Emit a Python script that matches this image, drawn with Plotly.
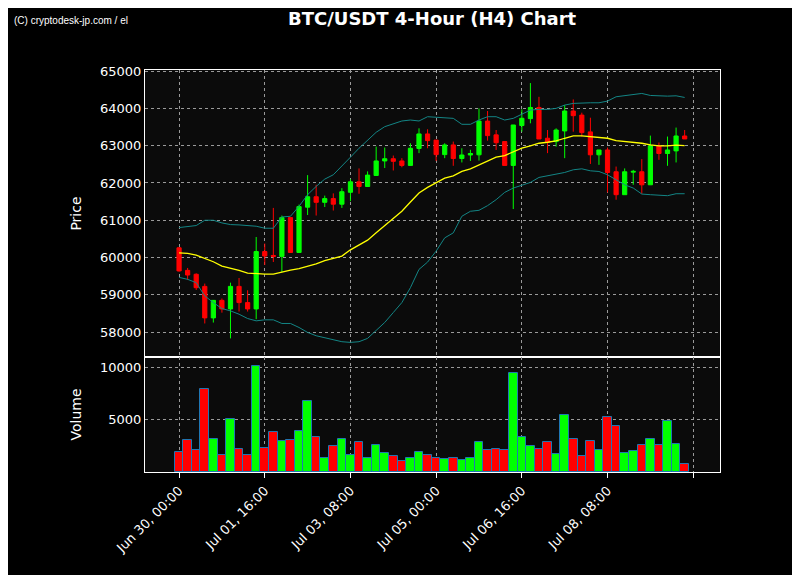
import pandas as pd
import plotly.graph_objects as go
from plotly.subplots import make_subplots

dates = pd.date_range("2024-06-30 00:00", periods=60, freq="4h")

opens = [60260, 59655, 59550, 59225, 58380, 58850, 58620, 59225, 58790, 58620,
         60160, 60055, 60030, 61070, 60135, 61350, 61630, 61480, 61580, 61430,
         61750, 62030, 61905, 62200, 62590, 62650, 62590, 62470, 62925, 63315,
         63150, 62760, 63020, 62655, 62750, 62755, 63660, 63290, 63110, 62470,
         63540, 63725, 64025, 63200, 63110, 63395, 63930, 63820, 63370, 62755,
         62885, 62300, 61685, 62290, 62300, 61950, 62995, 62790, 62860, 63260]
highs = [60280, 59720, 59575, 59300, 58860, 58900, 59325, 59450, 59120, 60550,
         60375, 61330, 61125, 61070, 61420, 62210, 61950, 61660, 61720, 61860,
         62100, 62390, 62310, 62975, 62950, 62735, 62665, 63065, 63465, 63440,
         63150, 63065, 63110, 62930, 62890, 64000, 63930, 63420, 63110, 63555,
         63975, 64680, 64310, 63420, 63465, 64090, 64240, 63885, 63750, 62885,
         62950, 62440, 62390, 62350, 62640, 63270, 63085, 63245, 63485, 63420]
lows = [59620, 59400, 59130, 58230, 58255, 58520, 57830, 58550, 58550, 58345,
        59800, 59880, 59610, 60135, 60135, 61140, 61125, 61355, 61260, 61330,
        61510, 61710, 61905, 62200, 62400, 62335, 62420, 62470, 62800, 62930,
        62590, 62665, 62460, 62550, 62590, 62600, 63135, 62885, 62470, 61300,
        63375, 63600, 63180, 62800, 62975, 62665, 63375, 63245, 62510, 62485,
        61745, 61550, 61685, 61950, 61710, 61950, 62620, 62460, 62550, 63180]
closes = [59640, 59530, 59190, 58380, 58850, 58620, 59225, 58790, 58620, 60160,
          60040, 60030, 61070, 60135, 61365, 61630, 61480, 61580, 61430, 61765,
          62030, 61905, 62210, 62590, 62650, 62580, 62470, 62930, 63315, 63135,
          62760, 63020, 62655, 62750, 62790, 63660, 63270, 63080, 62470, 63555,
          63735, 64025, 63180, 63090, 63420, 63930, 63805, 63350, 62755, 62885,
          62280, 61685, 62300, 62310, 61950, 62995, 62790, 62885, 63260, 63180]
volumes = [1887, 3019, 2076, 7894, 3114, 1604, 5095, 2170, 1604, 10095,
           2264, 3868, 2925, 3019, 3963, 6793, 3302, 1321, 2453, 3114,
           1667, 2830, 1321, 2547, 1793, 1510, 1038, 1321, 1887, 1604,
           1352, 1227, 1321, 1132, 1321, 2830, 2076, 2201, 2076, 9435,
           3302, 2453, 2201, 2830, 1698, 5472, 3114, 1510, 2925, 2076,
           5252, 4434, 1856, 1981, 2547, 3114, 2547, 4906, 2642, 723]
sma = [60126, 60108, 60064, 59984, 59886, 59770, 59717, 59654, 59583, 59565,
       59556, 59556, 59619, 59663, 59699, 59761, 59832, 59913, 59984, 60037,
       60206, 60331, 60465, 60661, 60857, 61061, 61240, 61489, 61729, 61881,
       62014, 62130, 62192, 62308, 62379, 62486, 62602, 62691, 62735, 62833,
       62931, 62994, 63065, 63092, 63127, 63199, 63261, 63261, 63243, 63225,
       63199, 63136, 63118, 63101, 63065, 63020, 62994, 62994, 63012, 63003]
upper = [60803, 60821, 60857, 60999, 60999, 60928, 60883, 60874, 60848, 60839,
         60785, 60785, 61088, 61106, 61373, 61685, 61907, 62103, 62219, 62442,
         62691, 62931, 63154, 63359, 63510, 63581, 63662, 63688, 63662, 63777,
         63760, 63733, 63733, 63573, 63573, 63688, 63777, 63777, 63688, 63733,
         63840, 63955, 63973, 63973, 64000, 64089, 64134, 64151, 64151, 64151,
         64196, 64312, 64338, 64356, 64401, 64347, 64329, 64329, 64338, 64294]
lower = [59467, 59414, 59325, 58969, 58791, 58630, 58568, 58479, 58363, 58301,
         58328, 58328, 58230, 58230, 58123, 57990, 57901, 57848, 57794, 57741,
         57723, 57741, 57830, 58034, 58257, 58524, 58791, 59191, 59681, 59877,
         60171, 60527, 60661, 61106, 61240, 61266, 61391, 61551, 61747, 61863,
         61934, 62014, 62148, 62192, 62246, 62281, 62353, 62379, 62326, 62308,
         62219, 62085, 61951, 61863, 61702, 61685, 61667, 61658, 61711, 61711]

tick_vals = pd.date_range("2024-06-30 00:00", periods=7, freq="40h")
tick_text = [d.strftime("%b %d, %H:%M") for d in tick_vals[:-1]] + [""]

vol_colors = ["#00ff00" if c >= o else "#ff0000" for o, c in zip(opens, closes)]

fig = make_subplots(rows=2, cols=1, shared_xaxes=True, vertical_spacing=0,
                    row_heights=[0.714, 0.286])
fig.add_trace(go.Scatter(x=dates, y=upper, mode="lines", line=dict(color="#138585", width=1)), row=1, col=1)
fig.add_trace(go.Scatter(x=dates, y=lower, mode="lines", line=dict(color="#138585", width=1)), row=1, col=1)
fig.add_trace(go.Scatter(x=dates, y=sma, mode="lines", line=dict(color="#ffff00", width=1.3)), row=1, col=1)
fig.add_trace(go.Candlestick(x=dates, open=opens, high=highs, low=lows, close=closes,
                             increasing=dict(line=dict(color="#00ff00", width=1), fillcolor="#00ff00"),
                             decreasing=dict(line=dict(color="#ff0000", width=1), fillcolor="#ff0000"),
                             whiskerwidth=0), row=1, col=1)
fig.add_trace(go.Bar(x=dates, y=volumes, marker=dict(color=vol_colors, line=dict(color="#1f77b4", width=1)),
                     width=4 * 3600 * 1000), row=2, col=1)

grid = dict(showgrid=True, gridcolor="#9a9a9a", griddash="dot", gridwidth=1,
            showline=True, linecolor="white", linewidth=1, mirror=True, automargin=False,
            tickfont=dict(color="white", size=13), zeroline=False)
xr = [pd.Timestamp("2024-06-29 08:06"), pd.Timestamp("2024-07-10 12:30")]
fig.update_xaxes(**grid, range=xr, tickvals=tick_vals, ticktext=tick_text,
                 rangeslider_visible=False)
fig.update_xaxes(ticks="outside", tickcolor="white", ticklen=5, tickangle=-45, row=2, col=1)
fig.update_yaxes(**grid, tickformat="d")
fig.update_yaxes(range=[57330, 65030], tickvals=[58000, 59000, 60000, 61000, 62000, 63000, 64000, 65000],
                 title=dict(text="Price", font=dict(color="white", size=14)), row=1, col=1)
fig.update_yaxes(range=[0, 11000], tickvals=[5000, 10000],
                 title=dict(text="Volume", font=dict(color="white", size=14)), row=2, col=1)

fig.update_layout(
    width=800, height=575, showlegend=False,
    paper_bgcolor="black", plot_bgcolor="#0b0b0b",
    margin=dict(l=137, r=88, t=62, b=111, autoexpand=False),
    font=dict(family="DejaVu Sans", color="white"),
    bargap=0,
)
fig.add_annotation(text="<b>BTC/USDT 4-Hour (H4) Chart</b>", xref="paper", yref="paper",
                   x=0.5, y=1.127, xanchor="center", yanchor="middle", showarrow=False,
                   font=dict(size=18, color="white"))
fig.add_annotation(text="(C) cryptodesk-jp.com / el", xref="paper", yref="paper",
                   x=-0.231, y=1.122, xanchor="left", yanchor="middle", showarrow=False,
                   font=dict(size=10, color="white", family="Liberation Sans"))
fig.write_html("out.html")
